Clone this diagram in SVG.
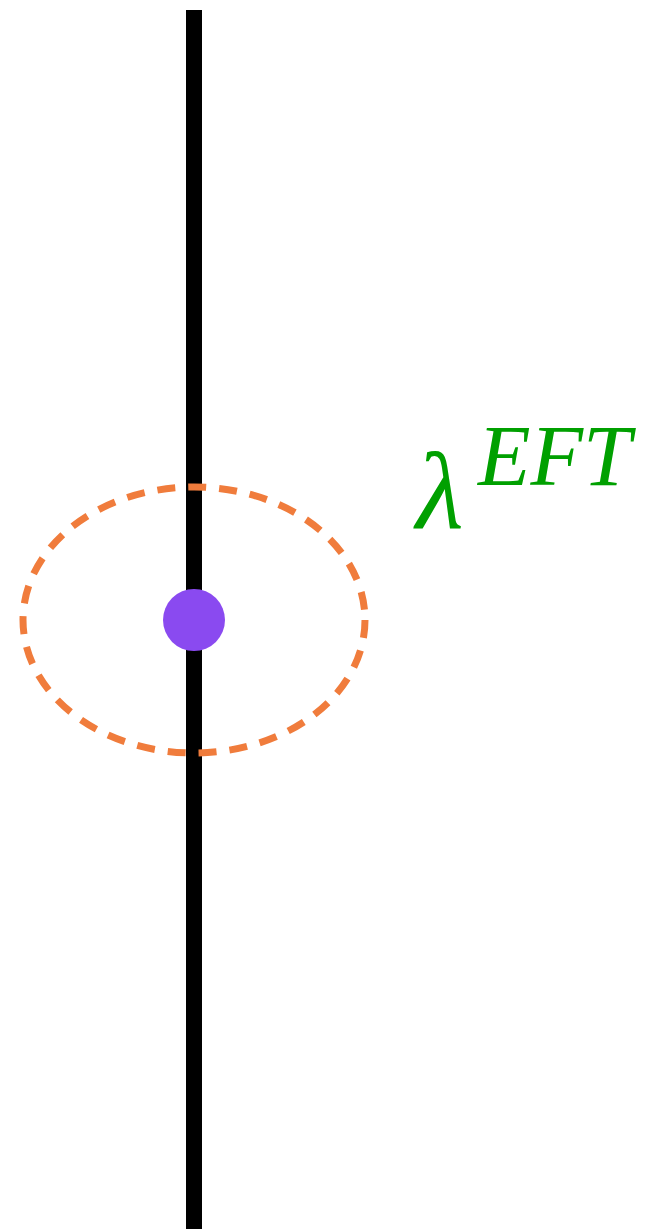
<svg xmlns="http://www.w3.org/2000/svg" width="646" height="1231" viewBox="0 0 646 1231">
<style>
.lbl{fill:#00a000;font-family:"Liberation Serif",serif;font-style:italic}
</style>
<rect width="646" height="1231" fill="#fff"/>
<g id="line"><line x1="194" y1="10" x2="194" y2="1229" stroke="#000" stroke-width="16"/></g>
<g id="loop"><ellipse cx="194" cy="620" rx="171" ry="133" fill="none" stroke="#f07c3c" stroke-width="7" stroke-dasharray="18 13"/></g>
<g id="vertex"><circle cx="194" cy="620" r="31" fill="#8a4af0"/></g>
<g id="label">
<text class="lbl" x="416" y="528" font-size="110">λ</text>
<text class="lbl" x="478" y="485" font-size="86">EFT</text>
</g>
</svg>
